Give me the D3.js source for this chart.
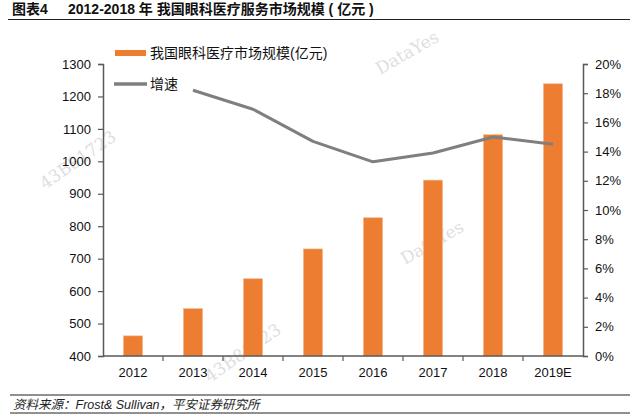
<!DOCTYPE html>
<html><head><meta charset="utf-8">
<script src="https://cdn.jsdelivr.net/npm/d3@7"></script>
<style>body{margin:0;background:#fff}svg{display:block}</style>
</head><body>
<svg id="c" width="640" height="420"></svg>
<script>
const categories = ["2012","2013","2014","2015","2016","2017","2018","2019E"];
const marketSize = [462, 546, 638, 730, 826, 942, 1082, 1239];
const growth = [null, 18.2, 16.9, 14.7, 13.3, 13.9, 15.0, 14.5];
const leftTicks = [400,500,600,700,800,900,1000,1100,1200,1300];
const rightTicks = [0,2,4,6,8,10,12,14,16,18,20];
const seriesNames = ["我国眼科医疗市场规模(亿元)", "增速"];
const titleLeft = "图表4";
const titleMain = "2012-2018 年 我国眼科医疗服务市场规模 ( 亿元 )";
const source = "资料来源：Frost& Sullivan，平安证券研究所";

const svg = d3.select("#c");
const font = "Arial, 'Liberation Sans', 'Noto Sans CJK SC', sans-serif";
const m = {l:103, r:583, t:64, b:356};

// watermarks
const wm = [["DataYes",380,75,-30],["43B81723",45,190,-35],["DataYes",405,265,-30],["43B81723",210,383,-35]];
svg.selectAll("text.wm").data(wm).enter().append("text")
  .attr("transform", d=>`translate(${d[1]},${d[2]}) rotate(${d[3]})`)
  .attr("font-family","'DejaVu Serif', serif").attr("font-size",17)
  .attr("fill","#dedede").text(d=>d[0]);

// title
svg.append("text").attr("x",12).attr("y",14).attr("font-family",font).attr("font-size",14)
  .attr("font-weight","bold").attr("fill","#111").text(titleLeft);
svg.append("text").attr("x",68).attr("y",14).attr("font-family",font).attr("font-size",14)
  .attr("font-weight","bold").attr("fill","#111").text(titleMain);
svg.append("line").attr("x1",8).attr("x2",630).attr("y1",19.5).attr("y2",19.5).attr("stroke","#222").attr("stroke-width",1.2);

const xb = d3.scaleBand().domain(categories).range([m.l, m.r]);
const yL = d3.scaleLinear().domain([400,1300]).range([m.b, m.t]);
const yR = d3.scaleLinear().domain([0,20]).range([m.b, m.t]);

// bars
svg.selectAll("rect.bar").data(categories).enter().append("rect")
  .attr("x", (d)=>xb(d)+xb.bandwidth()/2-9.5).attr("width",19)
  .attr("y",(d,i)=>yL(marketSize[i])).attr("height",(d,i)=>m.b-yL(marketSize[i]))
  .attr("fill","#ED7D31").attr("stroke","#F4B183").attr("stroke-width",0.6);

// line
const pts = categories.map((c,i)=>({c,v:growth[i]})).filter(d=>d.v!=null);
svg.append("path").datum(pts)
  .attr("d", d3.line().x(d=>xb(d.c)+xb.bandwidth()/2).y(d=>yR(d.v)))
  .attr("fill","none").attr("stroke","#7F7F7F").attr("stroke-width",3).attr("stroke-linejoin","round");

// axes
const axisColor = "#595959";
const gl = svg.append("g").attr("transform",`translate(${m.l},0)`)
  .call(d3.axisLeft(yL).tickValues(leftTicks).tickSize(5).tickPadding(7).tickFormat(d3.format("d")));
const gr = svg.append("g").attr("transform",`translate(${m.r},0)`)
  .call(d3.axisRight(yR).tickValues(rightTicks).tickSize(5).tickPadding(7).tickFormat(d=>d+"%"));
const gx = svg.append("g").attr("transform",`translate(0,${m.b})`)
  .call(d3.axisBottom(xb).tickSize(0).tickPadding(12));
[gl,gr,gx].forEach(g=>{
  g.select(".domain").attr("stroke",axisColor).attr("stroke-width",1.5);
  g.selectAll(".tick line").attr("stroke",axisColor).attr("stroke-width",1.2);
  g.selectAll("text").attr("font-family",font).attr("font-size",13).attr("fill","#111");
});
gx.select(".domain").attr("d",`M${m.l},0H${m.r}`);
svg.selectAll("line.xt").data(categories.slice(1)).enter().append("line")
  .attr("x1",d=>xb(d)).attr("x2",d=>xb(d)).attr("y1",m.b).attr("y2",m.b+5)
  .attr("stroke",axisColor).attr("stroke-width",1.2);

// legend
svg.append("rect").attr("x",115).attr("y",50).attr("width",31).attr("height",6).attr("fill","#ED7D31");
svg.append("text").attr("x",150).attr("y",58).attr("font-family",font).attr("font-size",14).attr("fill","#111").text(seriesNames[0]);
svg.append("line").attr("x1",114).attr("x2",147).attr("y1",84).attr("y2",84).attr("stroke","#7F7F7F").attr("stroke-width",3.5);
svg.append("text").attr("x",150).attr("y",89).attr("font-family",font).attr("font-size",14).attr("fill","#111").text(seriesNames[1]);

// footer
svg.append("line").attr("x1",10).attr("x2",630).attr("y1",395).attr("y2",395).attr("stroke","#222").attr("stroke-width",1.2);
svg.append("text").attr("x",13).attr("y",409).attr("font-family",font).attr("font-size",12.5)
  .attr("font-style","italic").attr("fill","#222").text(source);
svg.append("line").attr("x1",10).attr("x2",630).attr("y1",413).attr("y2",413).attr("stroke","#222").attr("stroke-width",1);
</script>
</body></html>
